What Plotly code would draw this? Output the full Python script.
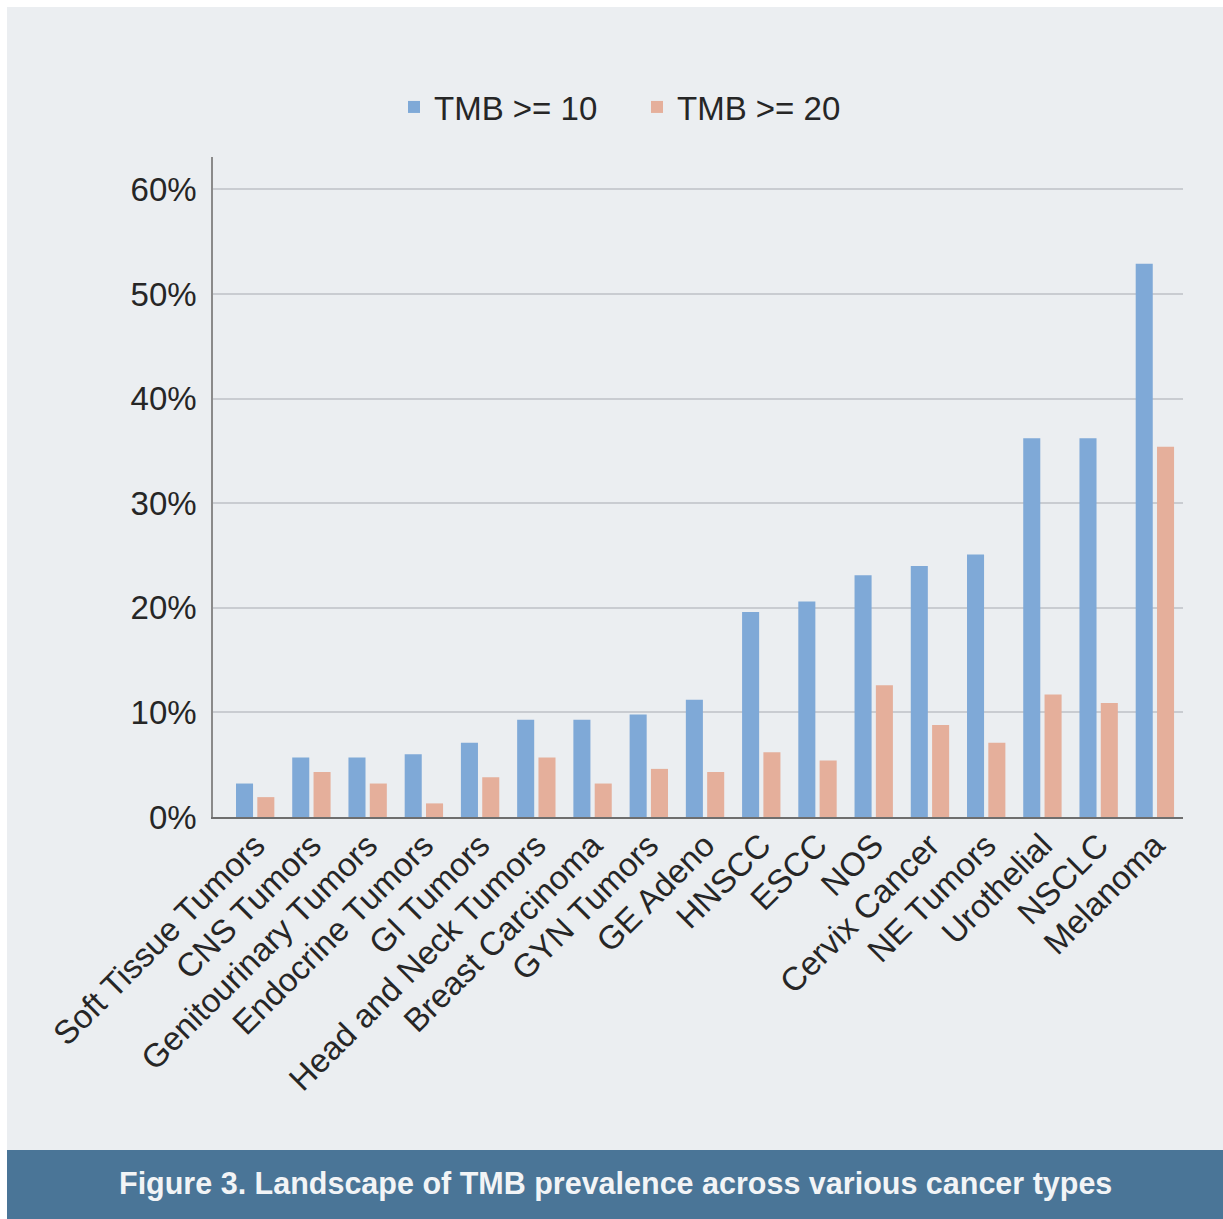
import plotly.graph_objects as go

# Cancer types, ordered by prevalence of TMB >= 10
categories = [
    "Soft Tissue Tumors", "CNS Tumors", "Genitourinary Tumors", "Endocrine Tumors",
    "GI Tumors", "Head and Neck Tumors", "Breast Carcinoma", "GYN Tumors",
    "GE Adeno", "HNSCC", "ESCC", "NOS", "Cervix Cancer", "NE Tumors",
    "Urothelial", "NSCLC", "Melanoma",
]

# Prevalence (%) of each TMB threshold
tmb_ge_10 = [3.2, 5.7, 5.7, 6.0, 7.1, 9.3, 9.3, 9.8, 11.2, 19.6, 20.6, 23.1, 24.0, 25.1, 36.2, 36.2, 52.9]
tmb_ge_20 = [1.9, 4.3, 3.2, 1.3, 3.8, 5.7, 3.2, 4.6, 4.3, 6.2, 5.4, 12.6, 8.8, 7.1, 11.7, 10.9, 35.4]

y_ticks = [0, 10, 20, 30, 40, 50, 60]
y_tick_labels = ["0%", "10%", "20%", "30%", "40%", "50%", "60%"]

caption = "Figure 3. Landscape of TMB prevalence across various cancer types"

W, H = 1223, 1219
PLOT_L, PLOT_R, PLOT_T, PLOT_B = 213, 1183, 157, 817
BG = "#ebeef1"
TEXT = "#262626"
FONT = "Liberation Sans, Arial, sans-serif"
FS = 33

pw = PLOT_R - PLOT_L
ph = PLOT_B - PLOT_T


def px_x(x):
    return (x - PLOT_L) / pw


def px_y(y):
    return (PLOT_B - y) / ph


fig = go.Figure()
fig.add_trace(go.Bar(
    name="TMB >= 10", x=list(range(len(categories))), y=tmb_ge_10,
    marker=dict(color="#7fa9d7", line=dict(width=0)),
))
fig.add_trace(go.Bar(
    name="TMB >= 20", x=list(range(len(categories))), y=tmb_ge_20,
    marker=dict(color="#e5af9b", line=dict(width=0)),
))

shapes = [
    # white frame strips on the top and left edges
    dict(type="rect", xref="paper", yref="paper", layer="below",
         x0=px_x(0), x1=px_x(W), y0=px_y(0), y1=px_y(7),
         fillcolor="white", line=dict(width=0)),
    dict(type="rect", xref="paper", yref="paper", layer="below",
         x0=px_x(0), x1=px_x(7), y0=px_y(0), y1=px_y(H),
         fillcolor="white", line=dict(width=0)),
    # caption banner
    dict(type="rect", xref="paper", yref="paper", layer="below",
         x0=px_x(7), x1=px_x(W), y0=px_y(1150), y1=px_y(H),
         fillcolor="#4a7597", line=dict(width=0)),
]

annotations = [
    dict(text=caption, xref="paper", yref="paper",
         x=px_x((7 + W) / 2), y=px_y(1183), xanchor="center", yanchor="middle",
         showarrow=False,
         font=dict(family=FONT, size=30.5, color="#f2f4f6", weight="bold")),
]

fig.update_layout(
    width=W, height=H,
    margin=dict(l=PLOT_L, r=W - PLOT_R, t=PLOT_T, b=H - PLOT_B, pad=0),
    paper_bgcolor=BG, plot_bgcolor="rgba(0,0,0,0)",
    font=dict(family=FONT, size=FS, color=TEXT),
    barmode="group", bargap=0.242, bargroupgap=0.2,
    showlegend=True,
    legend=dict(orientation="h", x=px_x(394), xanchor="left",
                y=px_y(107), yanchor="middle",
                font=dict(family=FONT, size=FS, color=TEXT),
                bgcolor="rgba(0,0,0,0)", entrywidth=198, entrywidthmode="pixels",
                itemclick=False),
    shapes=shapes, annotations=annotations,
)

fig.update_xaxes(
    range=[-0.75, len(categories) - 0.5],
    tickmode="array", tickvals=list(range(len(categories))), ticktext=categories,
    tickangle=-45, ticks="", ticklabelstandoff=-6,
    showgrid=False, zeroline=False,
    showline=True, linecolor="#6e6e6e", linewidth=1.5,
    tickfont=dict(family=FONT, size=FS, color=TEXT),
)
fig.update_yaxes(
    range=[0, (PLOT_B - PLOT_T) / 10.46],
    tickmode="array", tickvals=y_ticks, ticktext=y_tick_labels,
    ticks="", ticklabelstandoff=8,
    showgrid=True, gridcolor="#c9ccd1", gridwidth=1.5,
    zeroline=False, showline=True, linecolor="#8a8a8a", linewidth=1.5,
    tickfont=dict(family=FONT, size=FS, color=TEXT),
)

fig.write_html("out.html")
